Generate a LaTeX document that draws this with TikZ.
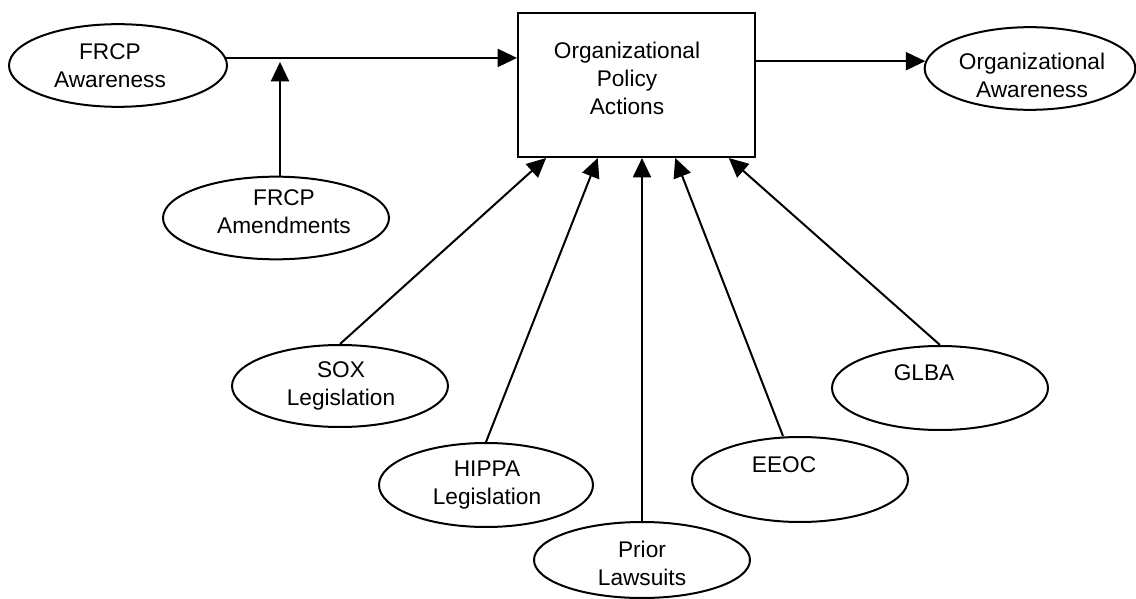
\documentclass[tikz,border=0pt]{standalone}
\usepackage{fontspec}
\setmainfont{Liberation Sans}
\usetikzlibrary{arrows.meta,calc,shapes.geometric}
\begin{document}
\begin{tikzpicture}[x=0.75pt,y=-0.75pt,
  ell/.style={draw,line width=1.5pt,ellipse,inner sep=0pt,minimum width=162pt,minimum height=62pt},
  lbl/.style={font=\fontsize{17pt}{21pt}\selectfont,align=center,inner sep=0pt},
  arr/.style={line width=1.5pt,-{Triangle[length=14.5pt,width=13.5pt]}},
  boxst/.style={draw,line width=1.5pt,inner sep=0pt,minimum width=177.75pt,minimum height=108pt}
  ]
\fill[white] (0,0) rectangle (1136,599);
\useasboundingbox (0,0) rectangle (1136,599);

% nodes
\node[ell,minimum width=163.5pt] (frcpa) at (118,65.5) {};
\node[lbl] (frcpat) at (110,66) {FRCP\\Awareness};

\node[boxst] (box) at (636.5,85) {};
\node[lbl] (boxt) at (627,78) {Organizational\\Policy\\Actions};

\node[ell,minimum width=158pt] (orga) at (1030,68.5) {};
\node[lbl] (orgat) at (1032,75) {Organizational\\Awareness};

\node[ell,minimum width=169.5pt] (amend) at (276,218) {};
\node[lbl] (amendt) at (284,211.5) {FRCP\\Amendments};

\node[ell,minimum height=61.5pt] (sox) at (340,386) {};
\node[lbl] (soxt) at (341,386) {SOX\\Legislation};

\node[ell,minimum width=160.5pt,minimum height=63pt] (hippa) at (486,485) {};
\node[lbl] (hippat) at (487,485) {HIPPA\\Legislation};

\node[ell,minimum height=57pt] (prior) at (642,560) {};
\node[lbl] (priort) at (642,563) {Prior\\Lawsuits};

\node[ell,minimum height=63.75pt] (eeoc) at (800,479.5) {};
\node[lbl] (eeoct) at (784,465) {EEOC};

\node[ell,minimum height=63pt] (glba) at (940,388) {};
\node[lbl] (glbat) at (924,373) {GLBA};

% connectors
\draw[arr] (frcpa.4) -- (frcpa.4 -| box.west);
\draw[arr] (orga.176 -| box.east) -- (orga.176);
\coordinate (am) at ([xshift=3pt]amend.north);
\draw[arr,shorten >=3pt] (am) -- (am |- frcpa.4);

\draw[arr] (sox.north) -- ($(box.south west)!0.122!(box.south east)$);
\draw[arr] (hippa.north) -- ($(box.south west)!0.338!(box.south east)$);
\draw[arr] (prior.north) -- (prior.north |- box.south);
\draw[arr] ([xshift=-12.75pt]eeoc.north) -- ($(box.south west)!0.662!(box.south east)$);
\draw[arr] (glba.north) -- ($(box.south west)!0.886!(box.south east)$);
\end{tikzpicture}
\end{document}
